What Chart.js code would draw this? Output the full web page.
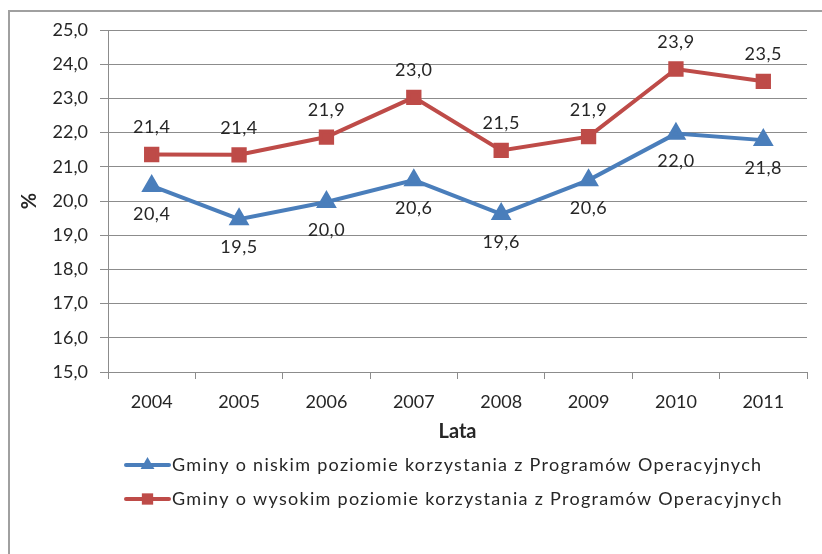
<!DOCTYPE html>
<html>
<head>
<meta charset="utf-8">
<style>
  html, body { margin: 0; padding: 0; background: #fff; overflow: hidden; }
  #wrap { position: relative; width: 822px; height: 554px; }
</style>
<script src="https://cdn.jsdelivr.net/npm/chart.js"></script>
</head>
<body>
<div id="wrap"><canvas id="chart" width="822" height="554"></canvas></div>
<script>
const years = ['2004', '2005', '2006', '2007', '2008', '2009', '2010', '2011'];
const lowUse = [20.44, 19.47, 19.97, 20.61, 19.62, 20.61, 21.97, 21.78];
const highUse = [21.36, 21.35, 21.87, 23.03, 21.48, 21.88, 23.86, 23.50];
const seriesNames = [
  'Gminy o niskim poziomie korzystania z Programów Operacyjnych',
  'Gminy o wysokim poziomie korzystania z Programów Operacyjnych'
];
const yMin = 15, yMax = 25, yStep = 1;
const xTitle = 'Lata';
const yTitle = '%';

const FONT = 'Lato';
const TEXT = '#262626';
const GRID = '#8c8c8c';

const fmt = v => v.toFixed(1).replace('.', ',');

// outer frame of the chart object
const framePlugin = {
  id: 'frame',
  beforeDraw(chart) {
    const ctx = chart.ctx;
    ctx.save();
    ctx.strokeStyle = '#a0a0a0';
    ctx.lineWidth = 2;
    ctx.strokeRect(9, 11, 1000, 1000);
    ctx.restore();
  }
};

// value labels: blue below, red above
const valueLabels = {
  id: 'valueLabels',
  afterDatasetsDraw(chart) {
    const ctx = chart.ctx;
    ctx.save();
    ctx.font = '18px ' + FONT;
    ctx.letterSpacing = '0.5px';
    ctx.fillStyle = TEXT;
    ctx.textAlign = 'center';
    ctx.textBaseline = 'middle';
    chart.data.datasets.forEach((ds, i) => {
      const meta = chart.getDatasetMeta(i);
      meta.data.forEach((pt, j) => {
        const dy = ds.labelBelow ? 28 : -27;
        ctx.fillText(fmt(ds.data[j]), pt.x, pt.y + dy);
      });
    });
    ctx.restore();
  }
};

function marker(ctx, style, x, y, r) {
  ctx.beginPath();
  if (style === 'triangle') {
    ctx.moveTo(x, y - r);
    ctx.lineTo(x + r * 0.866, y + r * 0.5);
    ctx.lineTo(x - r * 0.866, y + r * 0.5);
    ctx.closePath();
  } else {
    const s = r * Math.SQRT1_2;
    ctx.rect(x - s, y - s, 2 * s, 2 * s);
  }
  ctx.fill();
}

// legend drawn as Excel does: line with marker, one entry per row
const lineLegend = {
  id: 'lineLegend',
  afterDraw(chart) {
    const ctx = chart.ctx;
    ctx.save();
    chart.data.datasets.forEach((ds, i) => {
      const y = 465 + i * 34;
      ctx.strokeStyle = ds.borderColor;
      ctx.lineWidth = 4;
      ctx.lineCap = 'round';
      ctx.beginPath();
      ctx.moveTo(126, y);
      ctx.lineTo(169, y);
      ctx.stroke();
      ctx.fillStyle = ds.borderColor;
      marker(ctx, ds.pointStyle, 147.5, y, ds.pointRadius);
      ctx.fillStyle = TEXT;
      ctx.font = '18px ' + FONT;
      ctx.letterSpacing = '1.3px';
      ctx.textAlign = 'left';
      ctx.textBaseline = 'middle';
      ctx.fillText(ds.label, 172, y);
      ctx.letterSpacing = '0px';
    });
    ctx.restore();
  }
};

new Chart(document.getElementById('chart'), {
  type: 'line',
  data: {
    labels: years,
    datasets: [
      {
        label: seriesNames[0],
        data: lowUse,
        borderColor: '#4a7ebb',
        backgroundColor: '#4a7ebb',
        borderWidth: 4,
        pointStyle: 'triangle',
        pointRadius: 8,
        pointHoverRadius: 8,
        tension: 0,
        labelBelow: true
      },
      {
        label: seriesNames[1],
        data: highUse,
        borderColor: '#be4b48',
        backgroundColor: '#be4b48',
        borderWidth: 4,
        pointStyle: 'rect',
        pointRadius: 8,
        pointHoverRadius: 8,
        tension: 0,
        labelBelow: false
      }
    ]
  },
  options: {
    responsive: false,
    animation: false,
    layout: { padding: { top: 30, right: 15, bottom: 107, left: 0 } },
    plugins: {
      legend: { display: false },
      tooltip: { enabled: false }
    },
    scales: {
      x: {
        offset: true,
        grid: {
          offset: true,
          drawOnChartArea: false,
          drawTicks: true,
          tickLength: 7,
          color: GRID
        },
        border: { display: true, color: GRID, width: 1 },
        ticks: { color: TEXT, font: { family: FONT, size: 18 }, padding: 12 },
        title: {
          display: true,
          text: xTitle,
          color: TEXT,
          font: { family: FONT, size: 20, weight: 'bold' },
          padding: { top: 4, bottom: 3 }
        },
        afterFit(scale) { scale.height = 75; }
      },
      y: {
        min: yMin,
        max: yMax,
        grid: { color: GRID, tickLength: 8, drawTicks: true },
        border: { display: true, color: GRID, width: 1 },
        ticks: {
          stepSize: yStep,
          color: TEXT,
          font: { family: FONT, size: 18 },
          padding: 12,
          callback: v => fmt(v)
        },
        title: {
          display: true,
          text: yTitle,
          color: TEXT,
          font: { family: FONT, size: 20, weight: 'bold' },
          padding: { top: 18, bottom: 0 }
        },
        afterFit(scale) { scale.width = 108; }
      }
    }
  },
  plugins: [framePlugin, valueLabels, lineLegend]
});
</script>
</body>
</html>
